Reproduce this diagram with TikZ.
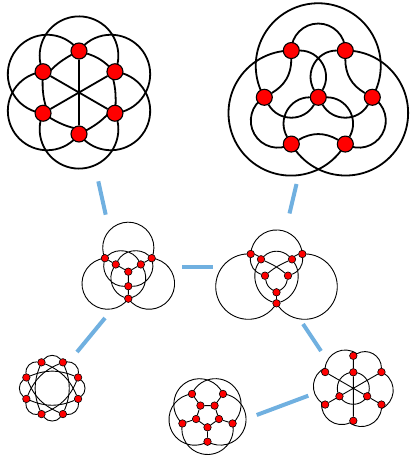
\documentclass[tikz,border=0pt]{standalone}
\usepackage{tikz}
\usetikzlibrary{backgrounds}
\definecolor{cLink}{RGB}{112,176,224}
\tikzset{
	bigvtx/.style  ={circle, draw=black, line width=1.1pt, fill=red, minimum size=16pt, inner sep=0pt},
	smallvtx/.style={circle, draw=black, line width=0.6pt, fill=red, minimum size=7.5pt, inner sep=0pt},
	bigarc/.style  ={line width=1.8pt},
	smallarc/.style={line width=0.9pt},
	link/.style    ={line width=4pt, cLink},
}
\begin{document}
\begin{tikzpicture}[x=1pt, y=1pt]
	\useasboundingbox (0,0) rectangle (415,463);
	% K6
	\begin{scope}[shift={(79,370.5)}]
		\foreach \n/\a in {1/90,2/150,3/210,4/270,5/330,6/30}
			\node[bigvtx] (k\n) at (\a:41.5) {};
		\begin{pgfonlayer}{background}
			\draw[bigarc] (k1) -- (k4) (k2) -- (k5) (k3) -- (k6);
			\draw[bigarc] (k1) to[bend left=12] (k6) to[bend left=12] (k5) to[bend left=12] (k4)
				to[bend left=12] (k3) to[bend left=12] (k2) to[bend left=12] (k1);
			\draw[bigarc] (k6.center) arc[start angle=-24, end angle=204, radius=39.35];
			\draw[bigarc] (k1.center) arc[start angle=36, end angle=264, radius=39.35];
			\draw[bigarc] (k2.center) arc[start angle=96, end angle=324, radius=39.35];
			\draw[bigarc] (k3.center) arc[start angle=156, end angle=384, radius=39.35];
			\draw[bigarc] (k4.center) arc[start angle=216, end angle=444, radius=39.35];
			\draw[bigarc] (k5.center) arc[start angle=276, end angle=504, radius=39.35];
		\end{pgfonlayer}
	\end{scope}
	% K3,3,1
	\begin{scope}[shift={(318.3,365.7)}]
		\node[bigvtx] (r0) at (0,0) {};
		\foreach \n/\a in {1/0,2/60,3/120,4/180,5/240,6/300}
			\node[bigvtx] (r\n) at (\a:54) {};
		\begin{pgfonlayer}{background}
			\draw[bigarc] (r4.center) arc[start angle=210.3, end angle=-30.3, radius=62.5];
			\draw[bigarc] (r6.center) arc[start angle=330.3, end angle=89.7, radius=62.5];
			\draw[bigarc] (r2.center) arc[start angle=90.3, end angle=-150.3, radius=62.5];
			\draw[bigarc] (r3.center) arc[start angle=180, end angle=0, radius=27];
			\draw[bigarc] (r5.center) arc[start angle=300, end angle=120, radius=27];
			\draw[bigarc] (r1.center) arc[start angle=60, end angle=-120, radius=27];
			\draw[bigarc] (r3) to[bend left=30] (r4) (r1) to[bend left=30] (r2) (r5) to[bend left=30] (r6);
			\draw[bigarc, looseness=1.13] (r0) to[bend right=60] (r3) (r0) to[bend left=60] (r2)
				(r0) to[bend right=60] (r5) (r0) to[bend left=60] (r4)
				(r0) to[bend right=60] (r1) (r0) to[bend left=60] (r6);
		\end{pgfonlayer}
	\end{scope}
	% seven vertices
	\begin{scope}[shift={(128.3,191.3)}]
		\node[smallvtx] (q0) at (0,0) {};
		\foreach \n/\a/\rad in {1/150/14.5,2/30/14.5,3/270/14.5,4/150/27,5/30/27,6/270/27}
			\node[smallvtx] (q\n) at (\a:\rad) {};
		\begin{pgfonlayer}{background}
			\draw[smallarc] (q4) -- (q1) -- (q0) -- (q2) -- (q5) (q0) -- (q3) -- (q6);
			\draw[smallarc] (q4.center) arc[start angle=204, end angle=-24, radius=25.6];
			\draw[smallarc] (q5.center) arc[start angle=84, end angle=-144, radius=25.6];
			\draw[smallarc] (q6.center) arc[start angle=324, end angle=96, radius=25.6];
			\draw[smallarc] (q4) to[bend left=52] (q2) (q5) to[bend left=52] (q3) (q6) to[bend left=52] (q1)
				(q5) to[bend right=52] (q1) (q4) to[bend right=52] (q3) (q6) to[bend right=52] (q2);
		\end{pgfonlayer}
	\end{scope}
	% eight vertices
	\begin{scope}[shift={(276.5,170.7)}]
		\node[smallvtx] (m1) at (-25.8,38.3) {};
		\node[smallvtx] (m2) at (-15.5,33) {};
		\node[smallvtx] (m3) at (15.5,33) {};
		\node[smallvtx] (m4) at (25.8,38.3) {};
		\node[smallvtx] (m5) at (-11.5,16.6) {};
		\node[smallvtx] (m6) at (11.5,16.6) {};
		\node[smallvtx] (m7) at (0,0) {};
		\node[smallvtx] (m8) at (0,-11) {};
		\begin{pgfonlayer}{background}
			\draw[smallarc] (m7) -- (m8);
			\draw[smallarc] (m7) to[out=150,in=280] (m5) (m7) to[out=30,in=260] (m6);
			\draw[smallarc] (m5) to[out=40,in=204] (m3) (m6) to[out=140,in=336] (m2);
			\draw[smallarc] (m5) to[out=160,in=266] (m1) (m6) to[out=20,in=274] (m4);
			\draw[smallarc] (m1) to[out=-4,in=130] (m2) (m4) to[out=184,in=50] (m3);
			\draw[smallarc] (m2) to[bend left=45] (m3);
			\draw[smallarc] (m8) to[out=162,in=236] (m2) (m8) to[out=18,in=304] (m3);
			\draw[smallarc] (m1.center) arc[start angle=176, end angle=4, radius=25.86];
			\draw[smallarc] (m1.center) arc[start angle=86, end angle=329.3, radius=32.7];
			\draw[smallarc] (m4.center) arc[start angle=94, end angle=-149.3, radius=32.7];
		\end{pgfonlayer}
	\end{scope}
	% K4,4 minus an edge
	\begin{scope}[shift={(52.2,74.8)}]
		\foreach \n in {0,...,7}
			\node[smallvtx] (w\n) at (22.5+45*\n:28) {};
		\begin{pgfonlayer}{background}
			\foreach \n in {0,...,7} {
				\pgfmathtruncatemacro{\nxt}{mod(\n+1,8)}
				\pgfmathtruncatemacro{\far}{mod(\n+3,8)}
				\draw[smallarc] (w\n) to[bend right=52] (w\nxt) (w\n) to[bend right=22] (w\far);
			}
		\end{pgfonlayer}
	\end{scope}
	% Petersen graph
	\begin{scope}[shift={(207.5,47.7)}]
		\foreach \n/\a in {1/54,2/126,3/198,4/270,5/342} {
			\node[smallvtx] (u\n) at (\a:26.4) {};
			\node[smallvtx] (n\n) at (\a:12) {};
		}
		\begin{pgfonlayer}{background}
			\draw[smallarc] (u1) -- (n1) (u2) -- (n2) (u3) -- (n3) (u4) -- (n4) (u5) -- (n5);
			\draw[smallarc] (n1) -- (n2) -- (n3) -- (n4) -- (n5) -- (n1);
			\draw[smallarc] (u5.center) arc[start angle=-48, end angle=156, radius=25.7];
			\draw[smallarc] (u1.center) arc[start angle=24, end angle=228, radius=25.7];
			\draw[smallarc] (u2.center) arc[start angle=96, end angle=300, radius=25.7];
			\draw[smallarc] (u3.center) arc[start angle=168, end angle=372, radius=25.7];
			\draw[smallarc] (u4.center) arc[start angle=240, end angle=444, radius=25.7];
		\end{pgfonlayer}
	\end{scope}
	% nine vertices
	\begin{scope}[shift={(353.3,74.7)}]
		\foreach \n/\a in {1/30,2/90,3/150,4/210,5/270,6/330}
			\node[smallvtx] (z\n) at (\a:32.5) {};
		\foreach \n/\a in {1/90,2/210,3/330}
			\node[smallvtx] (y\n) at (\a:16) {};
		\begin{pgfonlayer}{background}
			\draw[smallarc, looseness=1.13] (z1) to[bend right=60] (z2) to[bend right=60] (z3) to[bend right=60] (z4)
				to[bend right=60] (z5) to[bend right=60] (z6) to[bend right=60] (z1);
			\draw[smallarc] (z2) -- (y1) -- (z5) (z4) -- (y2) -- (z1) (z6) -- (y3) -- (z3);
			\draw[smallarc] (y1.center) arc[start angle=90, end angle=450, radius=16];
		\end{pgfonlayer}
	\end{scope}
	% transformations
	\coordinate (l1a) at (98.3,281.7);  \coordinate (l1b) at (105.7,248.3);
	\coordinate (l2a) at (296.5,279);   \coordinate (l2b) at (289.5,249.5);
	\coordinate (l3a) at (182,196);     \coordinate (l3b) at (212.5,196);
	\coordinate (l4a) at (105,145);     \coordinate (l4b) at (77,111);
	\coordinate (l5a) at (303,139);     \coordinate (l5b) at (321,112);
	\coordinate (l6a) at (256.7,48);    \coordinate (l6b) at (308.3,67.3);
	\draw[link] (l1a) -- (l1b);
	\draw[link] (l2a) -- (l2b);
	\draw[link] (l3a) -- (l3b);
	\draw[link] (l4a) -- (l4b);
	\draw[link] (l5a) -- (l5b);
	\draw[link] (l6a) -- (l6b);
\end{tikzpicture}
\end{document}
